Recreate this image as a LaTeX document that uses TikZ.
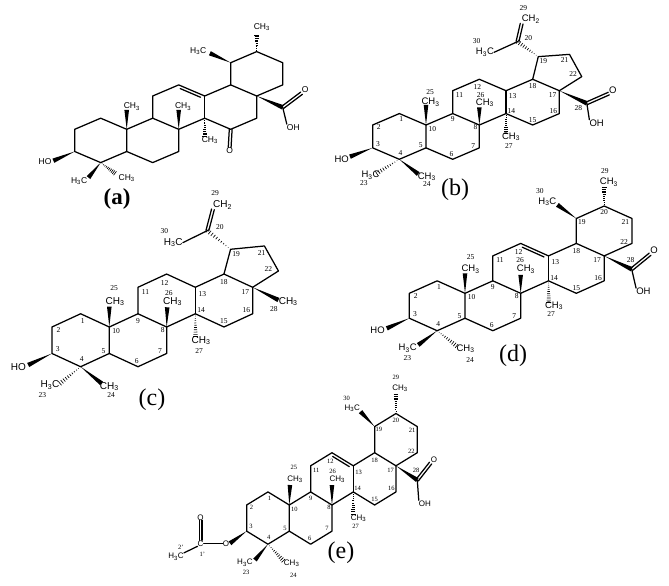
\documentclass[tikz,border=0pt]{standalone}
\usepackage{fontspec}
\setmainfont{Liberation Serif}
\setsansfont{Liberation Sans}
\usetikzlibrary{calc}
\def\gs{9.5}
\def\ns{7.5}
\newcommand{\hashbond}[2]{\foreach \t in {.1,.2,...,1.0} \draw[hashline] ($(#1)!\t!(#2)!\t*2.4pt!90:(#2)$) -- ($(#1)!\t!(#2)!\t*2.4pt!-90:(#2)$);}
\newcommand{\twobond}[2]{\draw[bond] ($(#1)!1.4pt!90:(#2)$) -- ($(#2)!1.4pt!-90:(#1)$);
   \draw[bond] ($(#1)!1.4pt!-90:(#2)$) -- ($(#2)!1.4pt!90:(#1)$);}
\newcommand{\innerbond}[2]{\draw[bond] ($(#1)!.1!(#2)!2.8pt!-90:(#2)$) -- ($(#1)!.88!(#2)!2.8pt!-90:(#2)$);}
\newcommand{\skel}[1]{\foreach \n/\px/\py in {1/-1/-1,2/-2/0,3/-2/2,4/-1/3,5/0/2,6/1/3,7/2/2,8/2/0,9/1/-1,10/0/0,11/1/-3,12/2/-4,13/3/-3,14/3/-1,15/4/0,16/5/-1,17/5/-3,18/4/-4}
   \coordinate (#1\n) at (\px,\py);
   \draw[bond] (#110) -- (#11) -- (#12) -- (#13) -- (#14) -- (#15) -- (#16) -- (#17) -- (#18) -- (#19) -- (#111) -- (#112) -- (#113) -- (#118) -- (#117) -- (#116) -- (#115) -- (#114) -- (#18);
   \draw[bond] (#15) -- (#110) -- (#19);
   \draw[bond] (#113) -- (#114);}
\newcommand{\oleanE}[1]{\foreach \n/\px/\py in {19/4/-6,20/5/-7,21/6/-6,22/6/-4}
   \coordinate (#1\n) at (\px,\py);
   \draw[bond] (#118) -- (#119) -- (#120) -- (#121) -- (#122) -- (#117);
   \innerbond{#112}{#113}}
\newcommand{\nums}[1]{\foreach \n/\px/\py in {1/-.93/-.48,2/-1.77/.2,3/-1.8/1.65,4/-.96/2.45,5/-.2/1.8,6/.96/2.55,7/1.77/1.8,8/1.86/.2,9/1/-.48,10/.24/.32,11/1.26/-2.65,12/1.93/-3.33,13/3.25/-2.5,14/3.2/-1.25,15/4/-.45,16/4.78/-1.25,17/4.75/-2.65,18/4/-3.4}
   \node[numlab] (#1n\n) at (\px,\py) {\n};}
\newcommand{\oleanN}[1]{\foreach \n/\px/\py in {19/4.2/-5.75,20/5/-6.5,21/5.76/-5.7,22/5.72/-4.13}
   \node[numlab] (#1n\n) at (\px,\py) {\n};}
\begin{document}
\begin{tikzpicture}[x=1pt,y=-1pt,
   bond/.style={line width=1.25pt,line cap=round,line join=round},
   hashline/.style={line width=.65pt},
   wedge/.style={fill=black,to path={-- ($(\tikztotarget)!2.3pt!90:(\tikztostart)$) -- ($(\tikztotarget)!2.3pt!-90:(\tikztostart)$) -- cycle}},
   grp/.style={inner sep=0pt,font=\sffamily\fontsize{\gs}{\gs}\selectfont},
   numlab/.style={inner sep=0pt,font=\fontsize{\ns}{\ns}\selectfont},
   tag/.style={inner sep=0pt,font=\fontsize{24}{24}\selectfont}]
\useasboundingbox (0,0) rectangle (669,586);

\begin{scope}[shift={(126.7,129.3)},x=26pt,y=-11.1pt]
   \def\gs{8.5}
   \skel{a}
   \oleanE{a}
   \coordinate (a25) at (0,-1.74);
   \coordinate (a26) at (2,-1.74);
   \coordinate (a27) at (3,.66);
   \coordinate (a30) at (3.2,-6.85);
   \coordinate (a29) at (5,-8.5);
   \coordinate (a28) at (6,-1.98);
   \coordinate (a3o) at (-2.82,2.83);
   \coordinate (a23) at (-1.47,4.35);
   \coordinate (a24) at (-.45,3.96);
   \node[grp] (at25) at (.2,-2.04) {CH\textsubscript{3}};
   \node[grp] (at26) at (2.17,-2.04) {CH\textsubscript{3}};
   \node[grp] (at27) at (3.2,.96) {CH\textsubscript{3}};
   \node[grp] (at30) at (2.75,-7.06) {H\textsubscript{3}C};
   \node[grp] (at29) at (5.2,-9.2) {CH\textsubscript{3}};
   \node[grp] (aO) at (6.86,-3.54) {O};
   \node[grp] (aOH) at (6.41,-.18) {OH};
   \node[grp] (aK) at (3.96,1.92) {O};
   \node[grp] (aHO) at (-3.14,2.92) {HO};
   \node[grp] (at23) at (-1.83,4.65) {H\textsubscript{3}C};
   \node[grp] (at24) at (0,4.41) {CH\textsubscript{3}};
   \fill[wedge] (a10) to (a25);
   \fill[wedge] (a8) to (a26);
   \fill[wedge] (a19) to (a30);
   \fill[wedge] (a17) to (a28);
   \fill[wedge] (a3) to (a3o);
   \fill[wedge] (a4) to (a23);
   \hashbond{a14}{a27}
   \hashbond{a20}{a29}
   \hashbond{a4}{a24}
   \twobond{a28}{aO.south west}
   \twobond{a15}{aK.north}
   \draw[bond] (a28) -- (aOH.north west);
\end{scope}

\begin{scope}[shift={(426,125)},x=26.67pt,y=-11.43pt]
   \def\gs{9.5}
   \skel{b}
   \nums{b}
   \coordinate (b19) at (4.21,-5.98);
   \coordinate (b21) at (5.38,-6.18);
   \coordinate (b22) at (5.84,-4.23);
   \coordinate (b20) at (3.43,-7.29);
   \coordinate (b25) at (0,-1.75);
   \coordinate (b26) at (2,-1.55);
   \coordinate (b27) at (3,.73);
   \coordinate (b28) at (6.03,-1.9);
   \coordinate (b3o) at (-2.85,2.77);
   \coordinate (b23) at (-1.85,4.23);
   \coordinate (b24) at (-.29,4.29);
   \draw[bond] (b18) -- (b19) -- (b21) -- (b22) -- (b17);
   \node[grp] (bt29) at (3.93,-9.24) {CH\textsubscript{2}};
   \node[grp] (bt30) at (2.21,-6.36) {H\textsubscript{3}C};
   \node[grp] (bt25) at (.17,-1.98) {CH\textsubscript{3}};
   \node[grp] (bt26) at (2.21,-1.95) {CH\textsubscript{3}};
   \node[grp] (bt27) at (3.19,1.02) {CH\textsubscript{3}};
   \node[grp] (bO) at (7,-3.06) {O};
   \node[grp] (bOH) at (6.4,-.15) {OH};
   \node[grp] (bHO) at (-3.16,2.97) {HO};
   \node[grp] (bt23) at (-2.08,4.37) {H\textsubscript{3}C};
   \node[grp] (bt24) at (.03,4.52) {CH\textsubscript{3}};
   \node[numlab] (bn29) at (3.65,-10.2) {29};
   \node[numlab] (bn30) at (1.9,-7.38) {30};
   \node[numlab] (bn20) at (3.84,-7.64) {20};
   \node[numlab] (bn19) at (4.4,-5.63) {19};
   \node[numlab] (bn21) at (5.2,-5.69) {21};
   \node[numlab] (bn22) at (5.52,-4.46) {22};
   \node[numlab] (bn25) at (.15,-2.92) {25};
   \node[numlab] (bn26) at (2.05,-2.65) {26};
   \node[numlab] (bn27) at (3.11,1.81) {27};
   \node[numlab] (bn28) at (5.71,-1.52) {28};
   \node[numlab] (bn23) at (-2.33,5.04) {23};
   \node[numlab] (bn24) at (.03,5.19) {24};
   \fill[wedge] (b10) to (b25);
   \fill[wedge] (b8) to (b26);
   \fill[wedge] (b17) to (b28);
   \fill[wedge] (b3) to (b3o);
   \fill[wedge] (b4) to (b24);
   \hashbond{b14}{b27}
   \hashbond{b19}{b20}
   \hashbond{b4}{b23}
   \twobond{b20}{bt29.south west}
   \twobond{b28}{bO.south west}
   \draw[bond] (b20) -- (bt30.east);
   \draw[bond] (b28) -- (bOH.north west);
\end{scope}

\begin{scope}[shift={(109.3,327)},x=28.67pt,y=-13.24pt]
   \def\gs{10}
   \skel{c}
   \nums{c}
   \coordinate (c19) at (4.23,-5.87);
   \coordinate (c21) at (5.41,-6.12);
   \coordinate (c22) at (5.9,-4.23);
   \coordinate (c20) at (3.42,-7.28);
   \coordinate (c25) at (0,-1.54);
   \coordinate (c26) at (2.02,-1.49);
   \coordinate (c27) at (3.01,.73);
   \coordinate (c28) at (5.9,-2.04);
   \coordinate (c3o) at (-2.83,2.87);
   \coordinate (c23) at (-1.72,4.26);
   \coordinate (c24) at (-.27,4.26);
   \draw[bond] (c18) -- (c19) -- (c21) -- (c22) -- (c17);
   \node[grp] (ct29) at (3.95,-9.22) {CH\textsubscript{2}};
   \node[grp] (ct30) at (2.23,-6.37) {H\textsubscript{3}C};
   \node[grp] (ct25) at (.2,-1.91) {CH\textsubscript{3}};
   \node[grp] (ct26) at (2.21,-1.91) {CH\textsubscript{3}};
   \node[grp] (ct27) at (3.2,1.03) {CH\textsubscript{3}};
   \node[grp] (ct28) at (6.24,-1.91) {CH\textsubscript{3}};
   \node[grp] (cHO) at (-3.17,3) {HO};
   \node[grp] (ct23) at (-2.07,4.38) {H\textsubscript{3}C};
   \node[grp] (ct24) at (0,4.51) {CH\textsubscript{3}};
   \node[numlab] (cn29) at (3.69,-10.1) {29};
   \node[numlab] (cn30) at (1.92,-7.25) {30};
   \node[numlab] (cn20) at (3.86,-7.53) {20};
   \node[numlab] (cn19) at (4.42,-5.52) {19};
   \node[numlab] (cn21) at (5.31,-5.57) {21};
   \node[numlab] (cn22) at (5.55,-4.36) {22};
   \node[numlab] (cn25) at (.17,-2.92) {25};
   \node[numlab] (cn26) at (2.08,-2.6) {26};
   \node[numlab] (cn27) at (3.13,1.81) {27};
   \node[numlab] (cn28) at (5.74,-1.34) {28};
   \node[numlab] (cn23) at (-2.33,5.14) {23};
   \node[numlab] (cn24) at (.06,5.14) {24};
   \fill[wedge] (c10) to (c25);
   \fill[wedge] (c8) to (c26);
   \fill[wedge] (c17) to (c28);
   \fill[wedge] (c3) to (c3o);
   \fill[wedge] (c4) to (c24);
   \hashbond{c14}{c27}
   \hashbond{c19}{c20}
   \hashbond{c4}{c23}
   \twobond{c20}{ct29.south west}
   \draw[bond] (c20) -- (ct30.east);
\end{scope}

\begin{scope}[shift={(465,293.3)},x=27.83pt,y=-12.47pt]
   \def\gs{9.5}
   \skel{d}
   \oleanE{d}
   \nums{d}
   \oleanN{d}
   \coordinate (d25) at (0,-1.6);
   \coordinate (d26) at (2,-1.47);
   \coordinate (d27) at (3.01,.72);
   \coordinate (d30) at (3.32,-7.09);
   \coordinate (d29) at (5,-8.52);
   \coordinate (d28) at (5.99,-1.93);
   \coordinate (d3o) at (-2.81,2.81);
   \coordinate (d23) at (-1.68,4.14);
   \coordinate (d24) at (-.3,4.22);
   \node[grp] (dt25) at (.2,-1.95) {CH\textsubscript{3}};
   \node[grp] (dt26) at (2.19,-1.95) {CH\textsubscript{3}};
   \node[grp] (dt27) at (3.2,.98) {CH\textsubscript{3}};
   \node[grp] (dt30) at (2.96,-7.35) {H\textsubscript{3}C};
   \node[grp] (dt29) at (5.17,-8.93) {CH\textsubscript{3}};
   \node[grp] (dO) at (6.79,-3.42) {O};
   \node[grp] (dOH) at (6.41,-.13) {OH};
   \node[grp] (dHO) at (-3.14,2.97) {HO};
   \node[grp] (dt23) at (-2.06,4.41) {H\textsubscript{3}C};
   \node[grp] (dt24) at (.02,4.44) {CH\textsubscript{3}};
   \node[numlab] (dn30) at (2.69,-8.2) {30};
   \node[numlab] (dn29) at (5.03,-9.81) {29};
   \node[numlab] (dn25) at (.2,-2.89) {25};
   \node[numlab] (dn26) at (1.98,-2.65) {26};
   \node[numlab] (dn27) at (3.09,1.68) {27};
   \node[numlab] (dn28) at (5.95,-2.67) {28};
   \node[numlab] (dn23) at (-2.07,5.16) {23};
   \node[numlab] (dn24) at (.18,5.35) {24};
   \fill[wedge] (d10) to (d25);
   \fill[wedge] (d8) to (d26);
   \fill[wedge] (d19) to (d30);
   \fill[wedge] (d17) to (d28);
   \fill[wedge] (d3) to (d3o);
   \fill[wedge] (d4) to (d23);
   \hashbond{d14}{d27}
   \hashbond{d20}{d29}
   \hashbond{d4}{d24}
   \twobond{d28}{dO.south west}
   \draw[bond] (d28) -- (dOH.north west);
\end{scope}

\begin{scope}[shift={(289.3,505)},x=21.33pt,y=-13.07pt]
   \def\gs{8}
   \def\ns{6.5}
   \skel{e}
   \oleanE{e}
   \nums{e}
   \oleanN{e}
   \coordinate (e25) at (.03,-1.53);
   \coordinate (e26) at (2,-1.53);
   \coordinate (e27) at (3,.69);
   \coordinate (e30) at (3.34,-7.14);
   \coordinate (e29) at (5,-8.5);
   \coordinate (e28) at (6,-1.91);
   \coordinate (e3o) at (-2.78,2.93);
   \coordinate (e23) at (-1.61,4.21);
   \coordinate (e24) at (-.28,4.26);
   \node[grp] (et25) at (.27,-1.99) {CH\textsubscript{3}};
   \node[grp] (et26) at (2.25,-1.99) {CH\textsubscript{3}};
   \node[grp] (et27) at (3.25,1.02) {CH\textsubscript{3}};
   \node[grp] (et30) at (2.95,-7.4) {H\textsubscript{3}C};
   \node[grp] (et29) at (5.19,-8.93) {CH\textsubscript{3}};
   \node[grp] (eO) at (6.78,-3.44) {O};
   \node[grp] (eOH) at (6.36,-.13) {OH};
   \node[grp] (eOe) at (-2.97,2.93) {O};
   \node[grp] (eC) at (-4.16,2.93) {C};
   \node[grp] (eOc) at (-4.16,.94) {O};
   \node[grp] (eMe) at (-5.31,3.95) {H\textsubscript{3}C};
   \node[grp] (et23) at (-2.08,4.41) {H\textsubscript{3}C};
   \node[grp] (et24) at (.11,4.46) {CH\textsubscript{3}};
   \node[numlab] (en30) at (2.69,-8.16) {30};
   \node[numlab] (en29) at (5,-9.77) {29};
   \node[numlab] (en25) at (.22,-2.91) {25};
   \node[numlab] (en26) at (2.03,-2.6) {26};
   \node[numlab] (en27) at (3.11,1.6) {27};
   \node[numlab] (en28) at (5.94,-2.68) {28};
   \node[numlab] (en1p) at (-4.08,3.78) {1'};
   \node[numlab] (en2p) at (-5.09,3.27) {2'};
   \node[numlab] (en23) at (-2.03,5.18) {23};
   \node[numlab] (en24) at (.19,5.36) {24};
   \fill[wedge] (e10) to (e25);
   \fill[wedge] (e8) to (e26);
   \fill[wedge] (e19) to (e30);
   \fill[wedge] (e17) to (e28);
   \fill[wedge] (e3) to (e3o);
   \fill[wedge] (e4) to (e23);
   \hashbond{e14}{e27}
   \hashbond{e20}{e29}
   \hashbond{e4}{e24}
   \twobond{e28}{eO.south west}
   \twobond{eC.north}{eOc.south}
   \draw[bond] (e28) -- (eOH.north west);
   \draw[bond] (eOe.west) -- (eC.east);
   \draw[bond] (eC.south west) -- (eMe.north east);
\end{scope}

\node[tag,font=\bfseries\fontsize{23}{23}\selectfont] (la) at (117,199) {(a)};
\node[tag] (lb) at (455,190) {(b)};
\node[tag] (lc) at (152,400) {(c)};
\node[tag] (ld) at (513,356) {(d)};
\node[tag] (le) at (341,553) {(e)};
\end{tikzpicture}
\end{document}
